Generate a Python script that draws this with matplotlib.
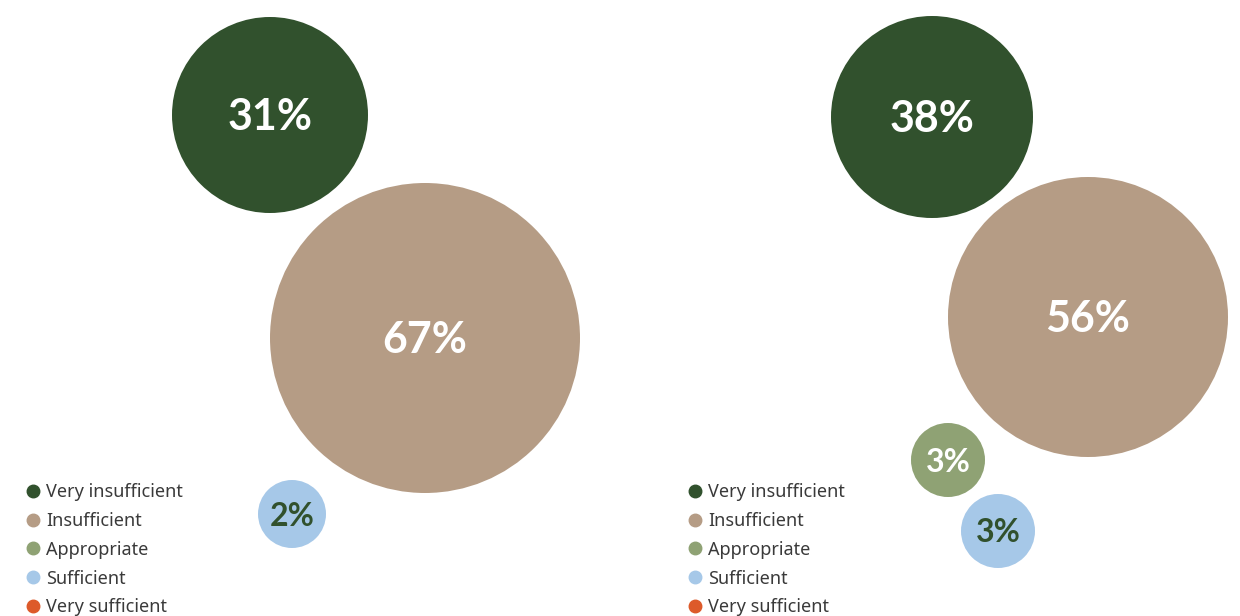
import matplotlib
matplotlib.use("Agg")
import matplotlib.pyplot as plt
from matplotlib.patches import Circle
from matplotlib.lines import Line2D

# ---- data ----
categories = ["Very insufficient", "Insufficient", "Appropriate", "Sufficient", "Very sufficient"]
colors = ["#31512d", "#b59c85", "#8fa274", "#a6c8e8", "#dd5a2a"]
left_values = [31, 67, 0, 2, 0]
right_values = [38, 56, 3, 3, 0]

# ---- layout (pixel units; packed-bubble positions) ----
left_layout = {0: (270, 115, 98), 1: (425, 338, 155), 3: (292, 514, 34)}
right_layout = {0: (932, 117, 101), 1: (1088, 317, 140), 2: (948, 460, 37), 3: (998, 531, 37)}

W, H = 1240, 616
fig = plt.figure(figsize=(W / 100, H / 100), dpi=100)
ax = fig.add_axes([0, 0, 1, 1])
ax.set_xlim(0, W)
ax.set_ylim(H, 0)
ax.axis("off")

def draw(values, layout):
    for i, v in enumerate(values):
        if v <= 0 or i not in layout:
            continue
        x, y, r = layout[i]
        ax.add_patch(Circle((x, y), r, facecolor=colors[i], edgecolor="none"))
        tc = "#31512d" if i == 3 else "white"
        fs = 31 if r > 60 else 23
        ax.text(x, y + 2, f"{v}%", ha="center", va="center", color=tc,
                fontsize=fs, fontweight="bold", family=["Lato", "DejaVu Sans"])

draw(left_values, left_layout)
draw(right_values, right_layout)

handles = [Line2D([], [], marker="o", linestyle="", markersize=9, color=c) for c in colors]
for x0 in (26, 688):
    leg = fig.legend(handles, categories, loc="upper left",
                     bbox_to_anchor=(x0 / W, 1 - 483 / H), frameon=False,
                     prop={"family": "Noto Sans", "size": 13},
                     labelcolor="#3a3a3a", handlelength=0.8, handletextpad=0.3,
                     labelspacing=0.6, borderpad=0, borderaxespad=0)

fig.savefig("out.png", dpi=100)
